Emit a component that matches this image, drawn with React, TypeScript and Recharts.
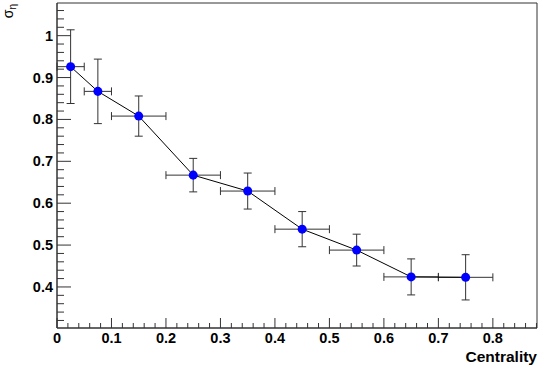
import React from 'react'
import { ComposedChart, Scatter, XAxis, YAxis, ErrorBar, ReferenceArea, Customized } from 'recharts';

// measured points (centrality bins)
const centrality = [0.025, 0.075, 0.15, 0.25, 0.35, 0.45, 0.55, 0.65, 0.75];
const sigmaEta = [0.926, 0.867, 0.808, 0.667, 0.629, 0.538, 0.488, 0.424, 0.423];
const xErr = [0.025, 0.025, 0.05, 0.05, 0.05, 0.05, 0.05, 0.05, 0.05];
const yErr = [0.088, 0.077, 0.048, 0.040, 0.043, 0.042, 0.038, 0.043, 0.054];

const xMajor = [0, 0.1, 0.2, 0.3, 0.4, 0.5, 0.6, 0.7, 0.8];
const yMajor = [0.4, 0.5, 0.6, 0.7, 0.8, 0.9, 1];

const X_DOMAIN = [0, 0.881];
const Y_DOMAIN = [0.302, 1.078];

// minor ticks every 1/5 of a major step, inside the domain
const subdivide = (major: number[], lo: number, hi: number) => {
  const out: number[] = [];
  const step = (major[1] - major[0]) / 5;
  for (let k = Math.ceil(lo / step - 1e-6); k * step <= hi + 1e-9; k++) {
    out.push(Math.round(k * step * 1000) / 1000);
  }
  return out;
};
const xTicks = subdivide(xMajor, X_DOMAIN[0], X_DOMAIN[1]);
const yTicks = subdivide(yMajor, Y_DOMAIN[0], Y_DOMAIN[1]);

const data = centrality.map((c, i) => ({
  x: c,
  y: sigmaEta[i],
  ex: xErr[i],
  ey: yErr[i],
}));

const axisColor = "#333";
const font = "'Liberation Sans', Arial, sans-serif";

const isMajor = (list: number[], v: number) => list.find(m => Math.abs(m - v) < 1e-6);

const XTick = (props: any) => {
  const { x, y, payload } = props;
  const m = isMajor(xMajor, payload.value);
  const major = m !== undefined;
  return (
    <g>
      <line x1={x} x2={x} y1={y} y2={y - (major ? 10 : 5)} stroke={axisColor} />
      {major && (
        <text x={x} y={y + 15} textAnchor="middle" fontFamily={font} fontWeight="bold" fontSize={14.5} fill="#000">
          {String(m)}
        </text>
      )}
    </g>
  );
};

const YTick = (props: any) => {
  const { x, y, payload } = props;
  const m = isMajor(yMajor, payload.value);
  const major = m !== undefined;
  return (
    <g>
      <line x1={x} x2={x + (major ? 14 : 7)} y1={y} y2={y} stroke={axisColor} />
      {major && (
        <text x={x - 4} y={y + 5} textAnchor="end" fontFamily={font} fontWeight="bold" fontSize={14.5} fill="#000">
          {String(m)}
        </text>
      )}
    </g>
  );
};

const Titles = () => (
  <g>
    <text x={537} y={362} textAnchor="end" fontFamily={font} fontWeight="bold" fontSize={15.5} fill="#000">
      Centrality
    </text>
    <text transform="rotate(-90)" x={-4} y={13} textAnchor="end" fontFamily={font} fontSize={14} fill="#000">
      σ<tspan dy={3} fontSize={10}>η</tspan>
    </text>
  </g>
);

const App: React.FC = () => {
  return (
    <div style={{ position: "absolute", left: 0, top: 0, background: "#fff" }}>
      <ComposedChart width={540} height={369} data={data}
        margin={{ top: 3, right: 3, left: 0, bottom: 0 }}>
        <ReferenceArea x1={X_DOMAIN[0]} x2={X_DOMAIN[1]} y1={Y_DOMAIN[0]} y2={Y_DOMAIN[1]}
          fill="none" stroke={axisColor} strokeWidth={1} ifOverflow="visible" />
        <XAxis dataKey="x" type="number" domain={X_DOMAIN} allowDataOverflow ticks={xTicks}
          interval={0} tickSize={0} tickMargin={0} tickLine={false} height={41}
          axisLine={{ stroke: axisColor }} tick={<XTick />} />
        <YAxis dataKey="y" type="number" domain={Y_DOMAIN} allowDataOverflow ticks={yTicks}
          interval={0} tickSize={0} tickMargin={0} tickLine={false} width={57}
          axisLine={{ stroke: axisColor }} tick={<YTick />} />
        <Scatter dataKey="y" fill="#0000ff" line={{ stroke: "#000", strokeWidth: 1 }}
          isAnimationActive={false}>
          <ErrorBar dataKey="ex" direction="x" width={4} stroke="#333" strokeWidth={1} />
          <ErrorBar dataKey="ey" direction="y" width={4} stroke="#333" strokeWidth={1} />
        </Scatter>
        <Customized component={Titles} />
      </ComposedChart>
    </div>
  );
}

export default App;
